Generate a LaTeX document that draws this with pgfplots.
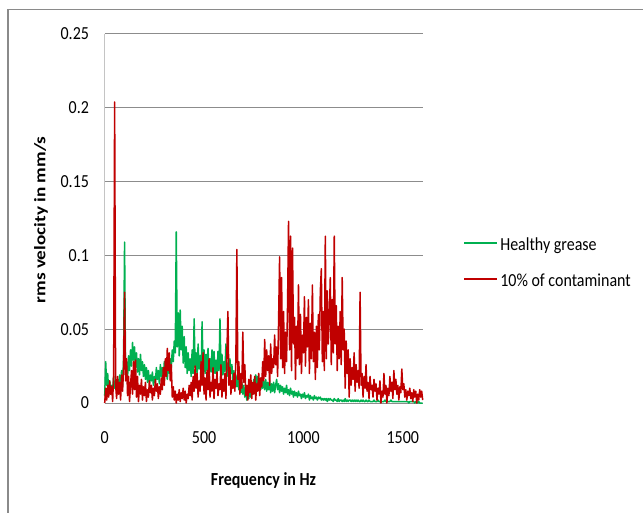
\documentclass[border=0pt]{standalone}
\usepackage{pgfplots}
\pgfplotsset{compat=1.18}
\usepackage{pgfplotstable}
\usepackage{fontspec}
\setmainfont{Carlito}
\definecolor{hgreen}{HTML}{00B050}
\definecolor{cred}{HTML}{C00000}
\definecolor{gridc}{HTML}{8C8C8C}
\definecolor{axc}{HTML}{C4C4C4}
\definecolor{framec}{HTML}{8A8A8A}
\newcommand{\vs}[1]{\scalebox{1}[1.15]{#1}}

% Healthy grease, 0..1600 Hz in steps of 5 Hz
\pgfplotstableread[row sep=\\]{v\\
0.005\\ 0.028\\ 0.012\\ 0.020\\ 0.008\\ 0.015\\ 0.006\\ 0.012\\ 0.009\\ 0.018\\
0.010\\ 0.014\\ 0.008\\ 0.016\\ 0.011\\ 0.019\\ 0.013\\ 0.022\\ 0.012\\ 0.030\\
0.109\\ 0.020\\ 0.028\\ 0.017\\ 0.032\\ 0.022\\ 0.036\\ 0.025\\ 0.041\\ 0.029\\
0.038\\ 0.024\\ 0.034\\ 0.021\\ 0.030\\ 0.019\\ 0.033\\ 0.022\\ 0.028\\ 0.018\\
0.026\\ 0.016\\ 0.024\\ 0.014\\ 0.022\\ 0.013\\ 0.019\\ 0.015\\ 0.021\\ 0.012\\
0.018\\ 0.014\\ 0.024\\ 0.016\\ 0.022\\ 0.013\\ 0.026\\ 0.018\\ 0.024\\ 0.017\\
0.028\\ 0.019\\ 0.022\\ 0.016\\ 0.026\\ 0.020\\ 0.030\\ 0.024\\ 0.036\\ 0.028\\
0.042\\ 0.034\\ 0.116\\ 0.038\\ 0.061\\ 0.032\\ 0.063\\ 0.036\\ 0.052\\ 0.027\\
0.045\\ 0.024\\ 0.038\\ 0.020\\ 0.034\\ 0.022\\ 0.030\\ 0.018\\ 0.036\\ 0.020\\
0.057\\ 0.024\\ 0.034\\ 0.019\\ 0.040\\ 0.023\\ 0.032\\ 0.018\\ 0.055\\ 0.025\\
0.036\\ 0.020\\ 0.033\\ 0.022\\ 0.037\\ 0.019\\ 0.030\\ 0.021\\ 0.036\\ 0.018\\
0.035\\ 0.020\\ 0.029\\ 0.017\\ 0.035\\ 0.022\\ 0.057\\ 0.024\\ 0.033\\ 0.019\\
0.028\\ 0.021\\ 0.040\\ 0.018\\ 0.027\\ 0.016\\ 0.030\\ 0.020\\ 0.026\\ 0.015\\
0.022\\ 0.012\\ 0.019\\ 0.011\\ 0.017\\ 0.009\\ 0.015\\ 0.007\\ 0.014\\ 0.006\\
0.012\\ 0.004\\ 0.010\\ 0.002\\ 0.008\\ 0.003\\ 0.011\\ 0.004\\ 0.013\\ 0.006\\
0.016\\ 0.008\\ 0.019\\ 0.009\\ 0.018\\ 0.010\\ 0.016\\ 0.009\\ 0.017\\ 0.010\\
0.015\\ 0.009\\ 0.016\\ 0.008\\ 0.014\\ 0.009\\ 0.015\\ 0.007\\ 0.013\\ 0.008\\
0.014\\ 0.007\\ 0.012\\ 0.016\\ 0.009\\ 0.013\\ 0.007\\ 0.012\\ 0.008\\ 0.011\\
0.006\\ 0.010\\ 0.007\\ 0.012\\ 0.006\\ 0.009\\ 0.005\\ 0.010\\ 0.006\\ 0.008\\
0.004\\ 0.008\\ 0.005\\ 0.007\\ 0.004\\ 0.008\\ 0.005\\ 0.006\\ 0.003\\ 0.006\\
0.004\\ 0.007\\ 0.003\\ 0.005\\ 0.004\\ 0.006\\ 0.002\\ 0.005\\ 0.003\\ 0.004\\
0.002\\ 0.005\\ 0.003\\ 0.004\\ 0.002\\ 0.004\\ 0.003\\ 0.004\\ 0.002\\ 0.003\\
0.002\\ 0.003\\ 0.002\\ 0.003\\ 0.001\\ 0.003\\ 0.002\\ 0.003\\ 0.002\\ 0.002\\
0.001\\ 0.003\\ 0.002\\ 0.002\\ 0.001\\ 0.003\\ 0.001\\ 0.002\\ 0.002\\ 0.001\\
0.002\\ 0.001\\ 0.003\\ 0.001\\ 0.002\\ 0.001\\ 0.002\\ 0.002\\ 0.001\\ 0.002\\
0.001\\ 0.002\\ 0.001\\ 0.002\\ 0.001\\ 0.002\\ 0.001\\ 0.001\\ 0.002\\ 0.001\\
0.002\\ 0.001\\ 0.001\\ 0.002\\ 0.001\\ 0.001\\ 0.002\\ 0.001\\ 0.001\\ 0.001\\
0.001\\ 0.002\\ 0.001\\ 0.001\\ 0.001\\ 0.002\\ 0.001\\ 0.001\\ 0.001\\ 0.001\\
0.001\\ 0.001\\ 0.002\\ 0.001\\ 0.001\\ 0.001\\ 0.001\\ 0.001\\ 0.002\\ 0.001\\
0.001\\ 0.001\\ 0.001\\ 0.001\\ 0.001\\ 0.001\\ 0.001\\ 0.001\\ 0.001\\ 0.001\\
0.001\\ 0.001\\ 0.001\\ 0.001\\ 0.001\\ 0.001\\ 0.000\\ 0.001\\ 0.001\\ 0.001\\
0.001\\ 0.001\\ 0.000\\ 0.001\\ 0.001\\ 0.000\\ 0.001\\ 0.000\\ 0.000\\ 0.000\\
0.000\\
}\healthy

% 10% of contaminant, 0..1600 Hz in steps of 5 Hz
\pgfplotstableread[row sep=\\]{v\\
0.000\\ 0.010\\ 0.002\\ 0.012\\ 0.004\\ 0.015\\ 0.006\\ 0.011\\ 0.001\\ 0.020\\
0.204\\ 0.012\\ 0.003\\ 0.018\\ 0.006\\ 0.014\\ 0.002\\ 0.019\\ 0.008\\ 0.024\\
0.075\\ 0.015\\ 0.030\\ 0.005\\ 0.018\\ 0.001\\ 0.012\\ 0.022\\ 0.006\\ 0.028\\
0.009\\ 0.029\\ 0.004\\ 0.018\\ 0.001\\ 0.012\\ 0.006\\ 0.016\\ 0.002\\ 0.011\\
0.005\\ 0.014\\ 0.001\\ 0.009\\ 0.004\\ 0.015\\ 0.007\\ 0.012\\ 0.002\\ 0.010\\
0.005\\ 0.016\\ 0.008\\ 0.013\\ 0.003\\ 0.011\\ 0.006\\ 0.017\\ 0.009\\ 0.024\\
0.012\\ 0.030\\ 0.018\\ 0.037\\ 0.022\\ 0.034\\ 0.015\\ 0.026\\ 0.004\\ 0.011\\
0.002\\ 0.008\\ 0.000\\ 0.006\\ 0.002\\ 0.009\\ 0.001\\ 0.007\\ 0.003\\ 0.010\\
0.002\\ 0.008\\ 0.000\\ 0.006\\ 0.003\\ 0.012\\ 0.005\\ 0.014\\ 0.002\\ 0.018\\
0.008\\ 0.025\\ 0.010\\ 0.020\\ 0.004\\ 0.015\\ 0.008\\ 0.028\\ 0.012\\ 0.034\\
0.006\\ 0.017\\ 0.002\\ 0.022\\ 0.009\\ 0.030\\ 0.004\\ 0.014\\ 0.008\\ 0.024\\
0.003\\ 0.016\\ 0.010\\ 0.021\\ 0.005\\ 0.013\\ 0.009\\ 0.026\\ 0.004\\ 0.016\\
0.008\\ 0.020\\ 0.003\\ 0.036\\ 0.062\\ 0.012\\ 0.024\\ 0.006\\ 0.015\\ 0.010\\
0.020\\ 0.008\\ 0.030\\ 0.104\\ 0.016\\ 0.028\\ 0.006\\ 0.020\\ 0.010\\ 0.048\\
0.014\\ 0.026\\ 0.005\\ 0.012\\ 0.002\\ 0.016\\ 0.007\\ 0.019\\ 0.003\\ 0.014\\
0.006\\ 0.018\\ 0.002\\ 0.013\\ 0.008\\ 0.020\\ 0.005\\ 0.017\\ 0.011\\ 0.028\\
0.015\\ 0.043\\ 0.018\\ 0.036\\ 0.022\\ 0.032\\ 0.012\\ 0.040\\ 0.020\\ 0.030\\
0.024\\ 0.046\\ 0.026\\ 0.038\\ 0.018\\ 0.056\\ 0.099\\ 0.030\\ 0.085\\ 0.024\\
0.062\\ 0.020\\ 0.048\\ 0.028\\ 0.066\\ 0.123\\ 0.036\\ 0.113\\ 0.022\\ 0.105\\
0.040\\ 0.058\\ 0.016\\ 0.052\\ 0.030\\ 0.080\\ 0.026\\ 0.060\\ 0.020\\ 0.046\\
0.034\\ 0.072\\ 0.025\\ 0.058\\ 0.038\\ 0.070\\ 0.020\\ 0.054\\ 0.030\\ 0.080\\
0.028\\ 0.048\\ 0.016\\ 0.052\\ 0.024\\ 0.060\\ 0.036\\ 0.076\\ 0.091\\ 0.028\\
0.062\\ 0.022\\ 0.113\\ 0.030\\ 0.076\\ 0.040\\ 0.058\\ 0.085\\ 0.026\\ 0.070\\
0.034\\ 0.113\\ 0.040\\ 0.066\\ 0.022\\ 0.052\\ 0.030\\ 0.062\\ 0.026\\ 0.085\\
0.036\\ 0.050\\ 0.010\\ 0.042\\ 0.020\\ 0.036\\ 0.004\\ 0.030\\ 0.012\\ 0.024\\
0.016\\ 0.034\\ 0.008\\ 0.026\\ 0.014\\ 0.022\\ 0.010\\ 0.075\\ 0.012\\ 0.020\\
0.004\\ 0.018\\ 0.010\\ 0.026\\ 0.008\\ 0.014\\ 0.003\\ 0.018\\ 0.009\\ 0.012\\
0.004\\ 0.016\\ 0.008\\ 0.013\\ 0.002\\ 0.010\\ 0.006\\ 0.015\\ 0.000\\ 0.008\\
0.004\\ 0.020\\ 0.006\\ 0.012\\ 0.000\\ 0.010\\ 0.005\\ 0.018\\ 0.008\\ 0.014\\
0.003\\ 0.022\\ 0.009\\ 0.016\\ 0.006\\ 0.012\\ 0.002\\ 0.011\\ 0.007\\ 0.023\\
0.009\\ 0.013\\ 0.004\\ 0.009\\ 0.002\\ 0.008\\ 0.005\\ 0.010\\ 0.003\\ 0.007\\
0.001\\ 0.009\\ 0.004\\ 0.008\\ 0.000\\ 0.006\\ 0.002\\ 0.009\\ 0.004\\ 0.008\\
0.002\\
}\contam

\begin{document}
\begin{tikzpicture}[x=1pt,y=1pt]
\useasboundingbox (0,0) rectangle (643,512);
\draw[framec, line width=1.5pt] (8,-10) -- (8,502.3) -- (660,502.3);
\begin{axis}[
  at={(104.7pt,109pt)}, anchor=south west,
  scale only axis, width=318pt, height=369pt,
  xmin=0, xmax=1600, ymin=0, ymax=0.25,
  axis x line*=bottom, axis y line*=left,
  x axis line style={gridc, line width=1pt, -},
  y axis line style={axc, line width=1pt, -},
  xtick={0,500,1000,1500},
  xticklabels={\vs{0},\vs{500},\vs{1000},\vs{1500}},
  ytick={0,0.05,0.1,0.15,0.2,0.25},
  yticklabels={\vs{0},\vs{0.05},\vs{0.1},\vs{0.15},\vs{0.2},\vs{0.25}},
  major tick length=0pt,
  ymajorgrids, grid style={gridc, line width=1pt},
  tick label style={font=\fontsize{16}{19}\selectfont, inner sep=0pt},
  xticklabel style={anchor=center, yshift=-35pt},
  yticklabel style={anchor=east, xshift=-15.5pt},
  xlabel={\vs{\bfseries Frequency in Hz}},
  ylabel={\scalebox{1.2}[1]{\bfseries rms velocity in mm/s}},
  label style={font=\fontsize{16}{19}\selectfont, inner sep=0pt},
  x label style={at={(axis description cs:0.4994,-0.2087)}, anchor=center},
  y label style={at={(axis description cs:-0.2003,0.496)}, anchor=center, rotate=0},
  legend style={at={(axis description cs:1.127,0.3753)}, anchor=west,
    draw=none, fill=none, inner sep=0pt, row sep=22pt,
    font=\fontsize{16}{19}\selectfont,
    nodes={inner sep=0pt, text height=11pt, text depth=3pt, anchor=west},
    /tikz/every odd column/.style={column sep=2pt}},
  legend cell align=left,
  legend image code/.code={\draw[#1, line width=2pt] (0pt,4pt) -- (33pt,4pt);},
  clip=false,
]
\addplot[hgreen, line width=1.5pt, line join=round] table[x expr=\coordindex*5, y=v] {\healthy};
\addlegendentry{\vs{Healthy grease}}
\addplot[cred, line width=1.5pt, line join=round] table[x expr=\coordindex*5, y=v] {\contam};
\addlegendentry{\vs{10\% of contaminant}}
\end{axis}
\end{tikzpicture}
\end{document}
